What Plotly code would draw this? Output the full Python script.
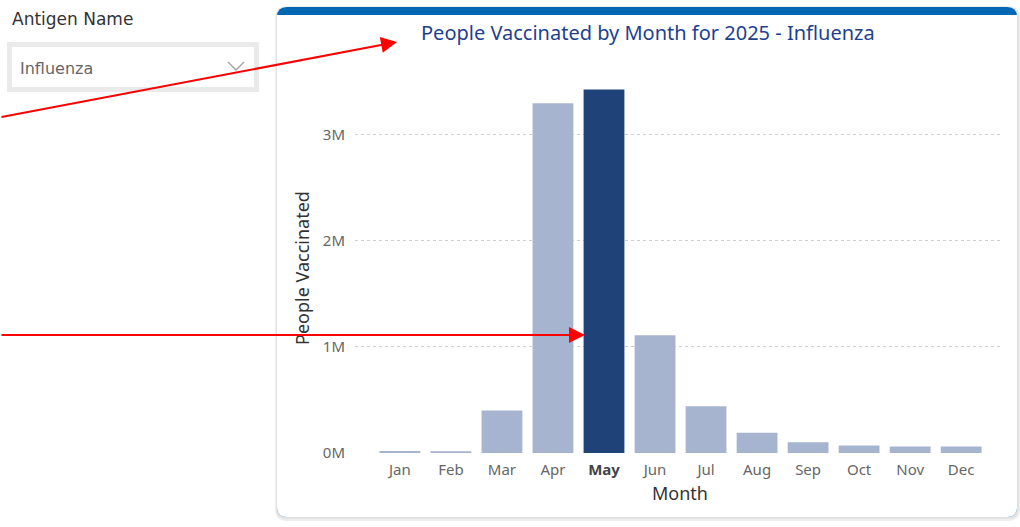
import plotly.graph_objects as go

# ---- data ----
months = ["Jan", "Feb", "Mar", "Apr", "May", "Jun", "Jul", "Aug", "Sep", "Oct", "Nov", "Dec"]
people_vaccinated = [18000, 15000, 400000, 3300000, 3430000, 1110000, 440000, 190000, 100000, 70000, 60000, 60000]
highlight_month = "May"
y_tick_values = [0, 1000000, 2000000, 3000000]
y_tick_labels = ["0M", "1M", "2M", "3M"]
chart_title = "People Vaccinated by Month for 2025 - Influenza"
slicer_label = "Antigen Name"
slicer_value = "Influenza"

W, H = 1020, 527
SY = 1.0 / 0.983  # vertical layout correction


def X(px):
    return px / W


def Y(py):
    return 1 - (py * SY) / H


def rrect_path(x0, y0, x1, y1, r, top=True, bottom=True):
    rt = r if top else 0
    rb = r if bottom else 0
    p = []
    p.append(f"M {X(x0 + rt)},{Y(y0)}")
    p.append(f"L {X(x1 - rt)},{Y(y0)}")
    if rt:
        p.append(f"Q {X(x1)},{Y(y0)} {X(x1)},{Y(y0 + rt)}")
    p.append(f"L {X(x1)},{Y(y1 - rb)}")
    if rb:
        p.append(f"Q {X(x1)},{Y(y1)} {X(x1 - rb)},{Y(y1)}")
    p.append(f"L {X(x0 + rb)},{Y(y1)}")
    if rb:
        p.append(f"Q {X(x0)},{Y(y1)} {X(x0)},{Y(y1 - rb)}")
    p.append(f"L {X(x0)},{Y(y0 + rt)}")
    if rt:
        p.append(f"Q {X(x0)},{Y(y0)} {X(x0 + rt)},{Y(y0)}")
    p.append("Z")
    return " ".join(p)


FONT = "Noto Sans"
SLICER_FONT = "DejaVu Sans"
light = "#A6B4CF"
dark = "#1F4279"
colors = [dark if m == highlight_month else light for m in months]
ticktext = [f"<b><span style='color:#444444'>{m}</span></b>" if m == highlight_month else m for m in months]

fig = go.Figure()
fig.add_trace(go.Bar(
    x=months, y=people_vaccinated, marker=dict(color=colors, line=dict(width=0)),
    width=0.8, hoverinfo="x+y",
))

shapes = [
    dict(type="path", path=rrect_path(275, 6, 1020, 521, 12), xref="paper", yref="paper",
         fillcolor="#EEEEEE", line=dict(width=0), layer="below"),
    dict(type="path", path=rrect_path(276, 7, 1019, 519, 11), xref="paper", yref="paper",
         fillcolor="#E2E2E2", line=dict(width=0), layer="below"),
    dict(type="path", path=rrect_path(277, 7, 1017, 517, 10), xref="paper", yref="paper",
         fillcolor="#0068B2", line=dict(width=0), layer="below"),
    dict(type="path", path=rrect_path(277, 15, 1017, 517, 10, top=False), xref="paper", yref="paper",
         fillcolor="#FFFFFF", line=dict(width=0), layer="below"),
    dict(type="rect", x0=X(9.5), x1=X(256.5), y0=Y(44.5), y1=Y(89.5), xref="paper", yref="paper",
         fillcolor="#FFFFFF", line=dict(color="#EAEAEA", width=5), layer="below"),
    dict(type="path", path=f"M {X(228)},{Y(62)} L {X(236)},{Y(70)} L {X(244)},{Y(62)}",
         xref="paper", yref="paper", line=dict(color="#A0A0A0", width=1.3), layer="below"),
]

annotations = [
    dict(text=chart_title, x=X(648), y=Y(33), xref="paper", yref="paper", showarrow=False,
         font=dict(family=FONT, size=20, color="#1F3F8F"), xanchor="center", yanchor="middle"),
    dict(text=slicer_label, x=X(10), y=Y(19), xref="paper", yref="paper", showarrow=False,
         font=dict(family=SLICER_FONT, size=17, color="#333333"), xanchor="left", yanchor="middle"),
    dict(text=slicer_value, x=X(18), y=Y(69), xref="paper", yref="paper", showarrow=False,
         font=dict(family=SLICER_FONT, size=16, color="#666666"), xanchor="left", yanchor="middle"),
    dict(text="People Vaccinated", x=X(302), y=Y(268), xref="paper", yref="paper", showarrow=False,
         textangle=-90, font=dict(family=FONT, size=18, color="#333333"), xanchor="center", yanchor="middle"),
    dict(text="Month", x=X(680), y=Y(493), xref="paper", yref="paper", showarrow=False,
         font=dict(family=FONT, size=18, color="#333333"), xanchor="center", yanchor="middle"),
    dict(text="", x=X(397), y=Y(42), xref="paper", yref="paper", showarrow=True,
         ax=-397, ay=74 * SY, axref="pixel", ayref="pixel", arrowcolor="#FF0000", arrowwidth=2,
         arrowhead=2, arrowsize=1.6, standoff=0),
    dict(text="", x=X(585), y=Y(335), xref="paper", yref="paper", showarrow=True,
         ax=-585, ay=0, axref="pixel", ayref="pixel", arrowcolor="#FF0000", arrowwidth=2,
         arrowhead=2, arrowsize=1.6, standoff=0),
]

fig.update_layout(
    width=W, height=H,
    margin=dict(l=0, r=0, t=0, b=0),
    paper_bgcolor="#FFFFFF",
    plot_bgcolor="rgba(0,0,0,0)",
    showlegend=False,
    bargap=0.2,
    shapes=shapes,
    annotations=annotations,
    font=dict(family=FONT),
    xaxis=dict(
        domain=[X(355), X(1003)], type="category", range=[-0.88, 11.82],
        showgrid=False, zeroline=False, showline=False,
        tickmode="array", tickvals=months, ticktext=ticktext,
        tickfont=dict(family=FONT, size=15, color="#666666"),
        ticks="", ticklabelstandoff=6, fixedrange=True,
    ),
    yaxis=dict(
        domain=[Y(453), Y(71.4)], range=[0, 3600000],
        tickmode="array", tickvals=y_tick_values, ticktext=y_tick_labels,
        showgrid=True, gridcolor="#CFCFCF", griddash="dot", gridwidth=1,
        zeroline=False, showline=False, ticks="", ticklabelstandoff=9,
        tickfont=dict(family=FONT, size=15, color="#666666"), fixedrange=True,
    ),
)

fig.write_html(
    "out.html",
    config={"displayModeBar": False},
    post_script=(
        "document.documentElement.style.overflow='hidden';"
        "document.body.style.margin='0';"
        "document.body.style.overflow='hidden';"
    ),
)
